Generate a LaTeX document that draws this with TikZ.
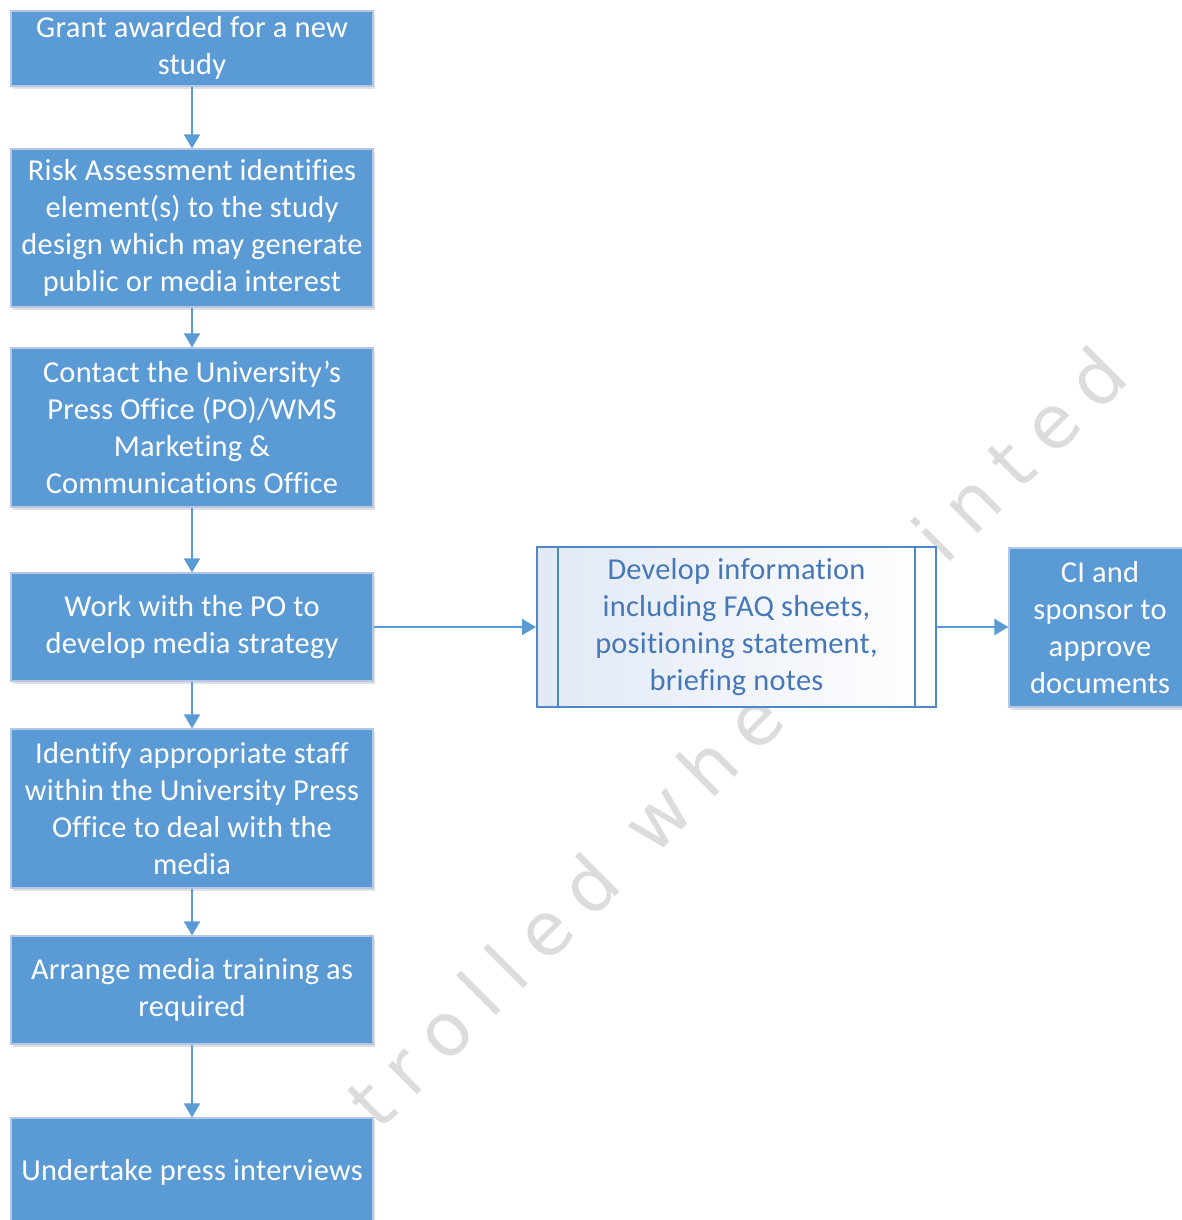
\documentclass[tikz,border=0pt]{standalone}
\usepackage{fontspec}
\setmainfont[Ligatures=CommonOff,LetterSpace=0.8]{Carlito}
\newfontfamily\wmfont[LetterSpace=25]{DejaVu Sans}
\usetikzlibrary{arrows.meta,shadows}
\definecolor{boxblue}{HTML}{5B9BD5}
\definecolor{boxedge}{HTML}{B4C7E7}
\definecolor{arrowblue}{HTML}{5B9BD5}
\definecolor{devedge}{HTML}{4F88C6}
\definecolor{devtext}{HTML}{4678B8}
\definecolor{devfill}{HTML}{E1E9F5}
\definecolor{wmgray}{HTML}{DCDCDC}
\tikzset{
  stepbox/.style={rectangle, fill=boxblue, draw=boxedge, line width=0.6pt,
    text=white, minimum width=181pt, align=center, inner sep=0pt,
    font=\fontsize{15.2}{18.5}\selectfont,
    drop shadow={shadow xshift=1pt, shadow yshift=-1.5pt, opacity=0.12, fill=black}},
  devbox/.style={rectangle, draw=devedge, line width=1pt, left color=devfill,
    right color=white, text=devtext, minimum width=199.5pt, minimum height=80pt,
    align=center, inner sep=0pt, font=\fontsize{15.2}{18.5}\selectfont},
  devline/.style={draw=devedge, line width=1pt},
  arr/.style={draw=arrowblue, line width=1pt, -{Triangle[width=8pt,length=7pt]}},
  wmark/.style={text=wmgray, font=\wmfont\fontsize{37}{37}\selectfont, inner sep=0pt}
}
\begin{document}
\begin{tikzpicture}[x=0.5pt,y=-0.5pt]
\clip (0,0) rectangle (1182,1220);
\fill[white] (0,0) rectangle (1182,1220);
% watermark
\node[wmark, rotate=45, anchor=base east] (wm) at (1132,380) {Uncontrolled when printed};
% left column
\node[stepbox, minimum height=37.5pt] (b1) at (192,48.5) {\raisebox{-1pt}{\begin{tabular}{@{}c@{}}Grant awarded for a new\\study\end{tabular}}};
\node[stepbox, minimum height=79pt] (b2) at (192,228) {Risk Assessment identifies\\element(s) to the study\\design which may generate\\public or media interest};
\node[stepbox, minimum height=79.5pt] (b3) at (192,427.5) {Contact the University’s\\Press Office (PO)/WMS\\Marketing \&\\Communications Office};
\node[stepbox, minimum height=54pt] (b4) at (192,627) {Work with the PO to\\develop media strategy};
\node[stepbox, minimum height=79.5pt] (b5) at (192,808.5) {Identify appropriate staff\\within the University Press\\Office to deal with the\\media};
\node[stepbox, minimum height=54pt] (b6) at (192,990) {Arrange media training as\\required};
\node[stepbox, minimum height=54pt] (b7) at (192,1172) {Undertake press interviews};
% right side
\node[devbox] (dev) at (736.5,627) {Develop information\\including FAQ sheets,\\positioning statement,\\briefing notes};
\draw[devline] ([xshift=11pt]dev.north west) -- ([xshift=11pt]dev.south west);
\draw[devline] ([xshift=-11pt]dev.north east) -- ([xshift=-11pt]dev.south east);
\node[stepbox, minimum width=91pt, minimum height=79.5pt] (ci) at (1100,627.5) {CI and\\sponsor to\\approve\\documents};
% connectors
\draw[arr] (b1) -- (b2);
\draw[arr] (b2) -- (b3);
\draw[arr] (b3) -- (b4);
\draw[arr] (b4) -- (b5);
\draw[arr] (b5) -- (b6);
\draw[arr] (b6) -- (b7);
\draw[arr] (b4.east) -- (b4.east -| dev.west);
\draw[arr] (dev.east) -- (dev.east -| ci.west);
\end{tikzpicture}
\end{document}
